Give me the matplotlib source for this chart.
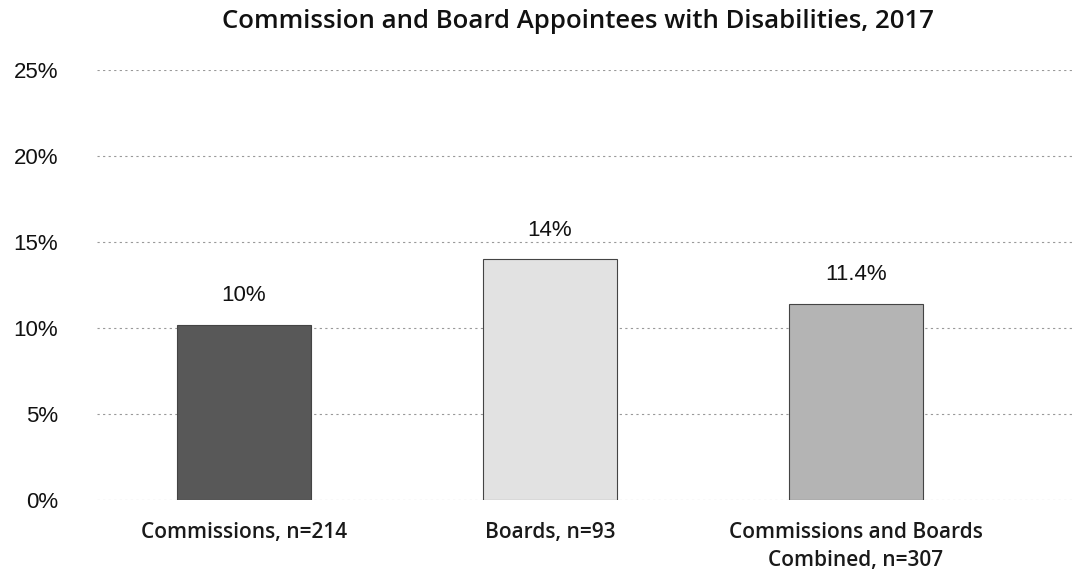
import matplotlib.pyplot as plt
from matplotlib.ticker import PercentFormatter

categories = ["Commissions, n=214", "Boards, n=93", "Commissions and Boards\nCombined, n=307"]
values = [10.2, 14.0, 11.4]
value_labels = ["10%", "14%", "11.4%"]
bar_colors = ["#585858", "#e2e2e2", "#b4b4b4"]
yticks = [0, 5, 10, 15, 20, 25]

fig = plt.figure(figsize=(10.82, 5.77), dpi=100)
ax = fig.add_axes([0.0896, 0.1334, 0.904, 0.7453])

x = range(len(categories))
bars = ax.bar(x, values, width=0.44, color=bar_colors, edgecolor="#444444", linewidth=0.8, zorder=3)

for b, lab in zip(bars, value_labels):
    ax.annotate(lab, (b.get_x() + b.get_width() / 2, b.get_height()),
                xytext=(0, 21), textcoords="offset points", ha="center", va="center",
                fontsize=16, fontfamily="Liberation Sans", color="#111111")

ax.set_ylim(0, 25)
ax.set_xlim(-0.48, 2.716)
ax.set_yticks(yticks)
ax.yaxis.set_major_formatter(PercentFormatter(decimals=0))
ax.set_xticks(list(x))
ax.set_xticklabels(categories, fontsize=15, fontfamily="Open Sans", fontweight="semibold",
                   color="#1a1a1a", linespacing=1.45)
ax.tick_params(axis="x", length=0, pad=16)
ax.tick_params(axis="y", length=0, pad=28, labelsize=16, labelcolor="#111111")
for t in ax.get_yticklabels():
    t.set_fontfamily("Liberation Sans")

ax.grid(axis="y", color="#999999", linestyle=(0, (2, 3)), linewidth=0.8, zorder=0)
for s in ax.spines.values():
    s.set_visible(False)

fig.suptitle("Commission and Board Appointees with Disabilities, 2017",
             x=0.534, y=0.985, fontsize=18.5, fontfamily="Open Sans", fontweight="semibold", color="#111111")

fig.savefig("out.png", dpi=100)
